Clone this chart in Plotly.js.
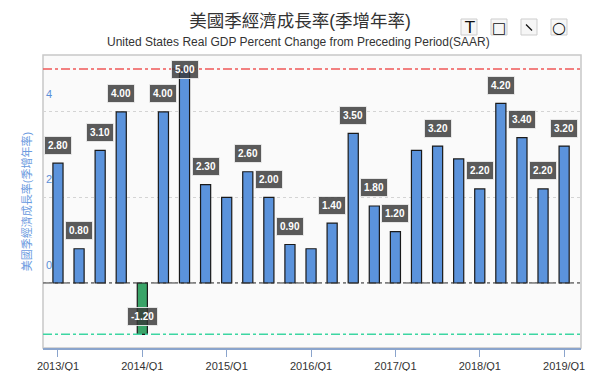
<!DOCTYPE html>
<html>
<head>
<meta charset="utf-8">
<script src="https://cdn.plot.ly/plotly-3.0.1.min.js"></script>
<style>html,body{margin:0;padding:0;background:#fff;}#chart{width:600px;height:371px;}</style>
</head>
<body>
<div id="chart"></div>
<script>
// ---- data ----
const quarters = [
  "2013/Q1","2013/Q2","2013/Q3","2013/Q4",
  "2014/Q1","2014/Q2","2014/Q3","2014/Q4",
  "2015/Q1","2015/Q2","2015/Q3","2015/Q4",
  "2016/Q1","2016/Q2","2016/Q3","2016/Q4",
  "2017/Q1","2017/Q2","2017/Q3","2017/Q4",
  "2018/Q1","2018/Q2","2018/Q3","2018/Q4",
  "2019/Q1"
];
const gdpGrowth = [
  2.8, 0.8, 3.1, 4.0,
  -1.2, 4.0, 5.0, 2.3,
  2.0, 2.6, 2.0, 0.9,
  0.8, 1.4, 3.5, 1.8,
  1.2, 3.1, 3.2, 2.9,
  2.2, 4.2, 3.4, 2.2,
  3.2
];
// which bars carry a value label in the reference (overlapping ones were hidden)
const labelShown = [
  true, true, true, true,
  true, true, true, true,
  false, true, true, true,
  false, true, true, true,
  true, false, true, false,
  true, true, true, true,
  true
];
const xTickLabels = ["2013/Q1","2014/Q1","2015/Q1","2016/Q1","2017/Q1","2018/Q1","2019/Q1"];
const yTickValues = [0, 2, 4];
const titleText = "美國季經濟成長率(季增年率)";
const subtitleText = "United States Real GDP Percent Change from Preceding Period(SAAR)";
const yTitleText = "美國季經濟成長率(季增年率)";
const toolIcons = ["T", "□", "", "○"];

// ---- styling / layout ----
const FONT = "'Liberation Sans', Arial, 'Noto Sans CJK TC', sans-serif";
const L = 43, T = 55, PW = 538, PH = 293;
const px2x = p => (p - L) / PW;
const px2y = p => (T + PH - p) / PH;
const yRange = [-1.52, 5.33];
const pxPerUnit = PH / (yRange[1] - yRange[0]);

const barColors = gdpGrowth.map(v => v < 0 ? "#3aa468" : "#5b93dc");

const trace = {
  type: "bar",
  x: quarters,
  y: gdpGrowth,
  width: 0.48,
  marker: { color: barColors, line: { color: "#1a1a1a", width: 1.2 } },
  hoverinfo: "x+y"
};

const annotations = [];
gdpGrowth.forEach((v, i) => {
  if (!labelShown[i]) return;
  const room = (yRange[1] - v) * pxPerUnit - 14;
  annotations.push({
    x: quarters[i], y: v, xref: "x", yref: "y",
    text: "<b>" + v.toFixed(2) + "</b>",
    showarrow: false,
    yanchor: "middle",
    yshift: Math.max(0, Math.min(18, room)),
    font: { family: FONT, size: 10, color: "#ffffff" },
    bgcolor: "rgba(55,55,55,0.82)",
    bordercolor: "rgba(235,235,235,0.9)",
    borderwidth: 1,
    borderpad: 3
  });
});

// subtitle
annotations.push({
  xref: "paper", yref: "paper",
  x: px2x(298), y: px2y(42),
  xanchor: "center", yanchor: "middle",
  text: subtitleText, showarrow: false,
  font: { family: FONT, size: 12, color: "#333" }
});

// toolbox
const iconLeft = [461, 491, 521, 551];
const iconSizes = [16, 15, 12, 16];
const shapes = [];
toolIcons.forEach((t, i) => {
  shapes.push({
    type: "rect", xref: "paper", yref: "paper",
    x0: px2x(iconLeft[i]), x1: px2x(iconLeft[i] + 16),
    y0: px2y(35), y1: px2y(19),
    line: { color: "#cdcdcd", width: 1 }, fillcolor: "#f6f6f6", layer: "above"
  });
  if (t) {
    annotations.push({
      xref: "paper", yref: "paper",
      x: px2x(iconLeft[i] + 8), y: px2y(27.5),
      xanchor: "center", yanchor: "middle",
      text: t, showarrow: false,
      font: { family: "'DejaVu Sans', sans-serif", size: iconSizes[i], color: "#111" }
    });
  }
});
shapes.push({
  type: "line", xref: "paper", yref: "paper",
  x0: px2x(526), x1: px2x(532), y0: px2y(24.5), y1: px2y(30.5),
  line: { color: "#111", width: 1.2 }
});

const vMax = Math.max(...gdpGrowth);
const vMin = Math.min(...gdpGrowth);

shapes.push(
  { type: "rect", xref: "paper", yref: "paper", x0: 0, x1: 1, y0: 0, y1: 1,
    line: { color: "#c8c8c8", width: 1.5 }, fillcolor: "rgba(0,0,0,0)", layer: "below" },
  { type: "line", xref: "paper", yref: "y", x0: 0, x1: 1, y0: 0, y1: 0,
    line: { color: "#333", width: 1, dash: "dashdot" } },
  { type: "line", xref: "paper", yref: "y", x0: 0, x1: 1, y0: vMax, y1: vMax,
    line: { color: "#f05858", width: 1.5, dash: "dashdot" } },
  { type: "line", xref: "paper", yref: "y", x0: 0, x1: 1, y0: vMin, y1: vMin,
    line: { color: "#3cd6a2", width: 1.5, dash: "dashdot" } }
);

const layout = {
  width: 600, height: 371,
  margin: { l: L, r: 600 - L - PW, t: T, b: 371 - T - PH, pad: 0 },
  paper_bgcolor: "#ffffff",
  plot_bgcolor: "#fafafa",
  showlegend: false,
  title: {
    text: titleText,
    x: 0.5, xref: "container", xanchor: "center",
    y: 1 - 21 / 371, yref: "container", yanchor: "middle",
    font: { family: FONT, size: 17.5, color: "#333" }
  },
  xaxis: {
    type: "category",
    range: [-0.71, 24.8],
    tickmode: "array",
    tickvals: xTickLabels,
    ticktext: xTickLabels,
    ticks: "outside", ticklen: 7, tickcolor: "#8aa4cc", tickwidth: 1,
    showline: true, linecolor: "#8aa4cc", linewidth: 1.5,
    showgrid: false, zeroline: false,
    tickfont: { family: FONT, size: 11, color: "#333" },
    fixedrange: true
  },
  yaxis: {
    range: yRange,
    tickmode: "array",
    tickvals: yTickValues,
    ticktext: yTickValues.map(String),
    ticklabelposition: "inside",
    ticklabelshift: -18,
    ticks: "",
    showline: false,
    showgrid: true, gridcolor: "#d4d4d4", griddash: "dot", gridwidth: 1,
    zeroline: false,
    tickfont: { family: FONT, size: 11, color: "#5b8fd8" },
    title: { text: yTitleText, font: { family: FONT, size: 11, color: "#6a9ae0" }, standoff: 12 },
    fixedrange: true
  },
  shapes: shapes,
  annotations: annotations,
  bargap: 0.5
};

Plotly.newPlot("chart", [trace], layout, { displayModeBar: false, staticPlot: false });
</script>
</body>
</html>
